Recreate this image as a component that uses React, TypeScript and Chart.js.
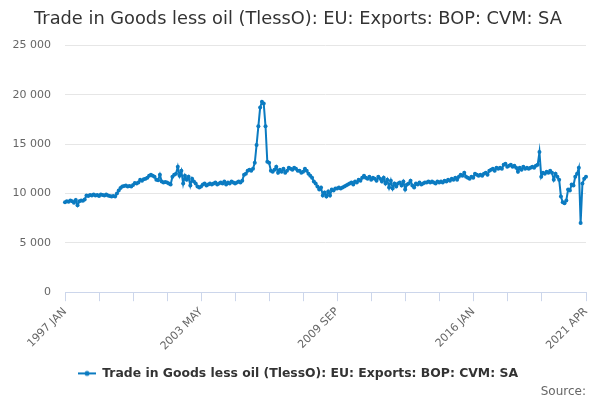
import React, { useEffect, useRef } from "react";
import { Chart, registerables } from "chart.js";

Chart.register(...registerables);

const TITLE = "Trade in Goods less oil (TlessO): EU: Exports: BOP: CVM: SA";
const SERIES_NAME = "Trade in Goods less oil (TlessO): EU: Exports: BOP: CVM: SA";
const SOURCE = "Source:";

const FIRST_YEAR = 1997;
const MONTHS = ["JAN", "FEB", "MAR", "APR", "MAY", "JUN", "JUL", "AUG", "SEP", "OCT", "NOV", "DEC"];
const LABELLED = ["1997 JAN", "2003 MAY", "2009 SEP", "2016 JAN", "2021 APR"];
const TICK_STEP = 19;
const Y_TICKS = [0, 5000, 10000, 15000, 20000, 25000];

// monthly values
const v1997 = [9100, 9200, 9150, 9300, 9200, 9050, 9350, 8800, 9200, 9300, 9250, 9400];
const v1998 = [9800, 9750, 9850, 9800, 9900, 9800, 9850, 9750, 9900, 9850, 9800, 9900];
const v1999 = [9800, 9750, 9700, 9750, 9700, 10000, 10300, 10550, 10700, 10750, 10800, 10700];
const v2000 = [10750, 10700, 10850, 11050, 11000, 11100, 11400, 11300, 11450, 11500, 11600, 11800];
const v2001 = [11900, 11800, 11700, 11400, 11350, 11900, 11200, 11100, 11150, 11100, 11000, 10900];
const v2002 = [11700, 11900, 12000, 12700, 11800, 12300, 11000, 11800, 11400, 11700, 10800, 11500];
const v2003 = [11200, 11000, 10700, 10600, 10700, 10900, 11000, 10800, 10900, 11000, 10900, 11000];
const v2004 = [11100, 10900, 11000, 11100, 11000, 11200, 10900, 11100, 11000, 11200, 11100, 11000];
const v2005 = [11100, 11200, 11100, 11300, 11900, 12000, 12300, 12400, 12300, 12500, 13100, 14900];
const v2006 = [16800, 18700, 19300, 19100, 16800, 13200, 13100, 12300, 12200, 12400, 12700, 12100];
const v2007 = [12400, 12200, 12500, 12100, 12300, 12600, 12500, 12400, 12600, 12500, 12300, 12300];
const v2008 = [12100, 12200, 12500, 12300, 12000, 11800, 11600, 11200, 11000, 10700, 10400, 10600];
const v2009 = [9800, 10100, 9700, 10200, 9800, 10400, 10300, 10500, 10500, 10600, 10500, 10600];
const v2010 = [10700, 10800, 10900, 11000, 11100, 10900, 11200, 11100, 11400, 11300, 11600, 11800];
const v2011 = [11600, 11500, 11700, 11400, 11600, 11500, 11300, 11700, 11500, 11200, 11600, 11000];
const v2012 = [11400, 10600, 11300, 10500, 11000, 10700, 11000, 11100, 10800, 11200, 10400, 10900];
const v2013 = [11000, 11300, 10800, 10600, 11000, 10900, 11100, 10900, 11000, 11100, 11100, 11200];
const v2014 = [11100, 11200, 11100, 11000, 11200, 11100, 11200, 11100, 11300, 11200, 11400, 11300];
const v2015 = [11500, 11400, 11600, 11400, 11700, 11900, 11800, 12100, 11700, 11600, 11500, 11700];
const v2016 = [11600, 12000, 11900, 11800, 11900, 11800, 12000, 12100, 11900, 12300, 12400, 12500];
const v2017 = [12300, 12600, 12500, 12600, 12500, 12900, 13000, 12700, 12800, 12900, 12700, 12800];
const v2018 = [12600, 12200, 12600, 12400, 12700, 12500, 12600, 12500, 12600, 12700, 12600, 12800];
const v2019 = [12900, 14200, 11700, 12100, 12000, 12200, 12100, 12300, 12100, 11400, 12000, 11700];
const v2020 = [11400, 9700, 9100, 9000, 9300, 10400, 10300, 10900, 10800, 11700, 12000, 12600];
const v2021 = [7000, 11000, 11500, 11700];

const VALUES = [
  ...v1997, ...v1998, ...v1999, ...v2000, ...v2001, ...v2002, ...v2003, ...v2004, ...v2005,
  ...v2006, ...v2007, ...v2008, ...v2009, ...v2010, ...v2011, ...v2012, ...v2013, ...v2014,
  ...v2015, ...v2016, ...v2017, ...v2018, ...v2019, ...v2020, ...v2021,
];
const LABELS = VALUES.map((_, i) => `${FIRST_YEAR + Math.floor(i / 12)} ${MONTHS[i % 12]}`);

const LINE_COLOR = "#0b7bc1";
const FONT = "'DejaVu Sans', sans-serif";

const fmt = (v: number) => String(v).replace(/\B(?=(\d{3})+(?!\d))/g, " ");

function legendIcon(color: string) {
  const c = document.createElement("canvas");
  c.width = 18;
  c.height = 8;
  const g = c.getContext("2d");
  if (g) {
    g.strokeStyle = color;
    g.lineWidth = 2;
    g.beginPath();
    g.moveTo(0, 4);
    g.lineTo(18, 4);
    g.stroke();
    g.fillStyle = color;
    g.beginPath();
    g.arc(9, 4, 2.5, 0, Math.PI * 2);
    g.fill();
  }
  return c;
}

const LineChart: React.FC = () => {
  const canvasRef = useRef<HTMLCanvasElement | null>(null);
  const chartRef = useRef<Chart | null>(null);

  useEffect(() => {
    if (!canvasRef.current) {
      return;
    }
    if (chartRef.current) {
      chartRef.current.destroy();
    }
    const last = LABELS.length - 1;
    const icon = legendIcon(LINE_COLOR);

    chartRef.current = new Chart(canvasRef.current, {
      type: "line",
      data: {
        labels: LABELS,
        datasets: [
          {
            label: SERIES_NAME,
            data: VALUES,
            borderColor: LINE_COLOR,
            backgroundColor: LINE_COLOR,
            borderWidth: 2,
            pointRadius: 2,
            pointBorderWidth: 0,
            pointBackgroundColor: LINE_COLOR,
            tension: 0,
          },
        ],
      },
      options: {
        responsive: false,
        animation: false,
        layout: { padding: { left: 10, right: 14, top: 0, bottom: 0 } },
        plugins: {
          title: {
            display: true,
            text: TITLE,
            color: "#333333",
            font: { family: FONT, size: 17.8, weight: "normal" },
            padding: { top: 9, bottom: 15 },
          },
          subtitle: {
            display: true,
            text: SOURCE,
            position: "bottom",
            align: "end",
            color: "#666666",
            font: { family: FONT, size: 12, weight: "normal" },
            padding: { top: -5, bottom: 1 },
          },
          legend: {
            position: "bottom",
            labels: {
              color: "#333333",
              font: { family: FONT, size: 12.4, weight: "bold" },
              usePointStyle: true,
              pointStyleWidth: 18,
              padding: 2,
              generateLabels: (chart) =>
                Chart.defaults.plugins.legend.labels
                  .generateLabels(chart)
                  .map((item) => ({ ...item, pointStyle: icon })),
            },
          },
          tooltip: { enabled: false },
        },
        scales: {
          x: {
            type: "category",
            afterBuildTicks: (axis) => {
              axis.ticks = axis.ticks.filter(
                (t) => (t.value % TICK_STEP === 0 && t.value <= last - TICK_STEP / 2) || t.value === last
              );
            },
            afterFit: (axis) => {
              axis.height = 73;
            },
            border: { display: true, color: "#ccd6eb", width: 1 },
            grid: {
              display: true,
              drawOnChartArea: false,
              drawTicks: true,
              tickLength: 9,
              color: "#ccd6eb",
            },
            ticks: {
              autoSkip: false,
              maxRotation: 45,
              minRotation: 45,
              padding: 4,
              color: "#666666",
              font: { family: FONT, size: 11 },
              callback: (value) => {
                const label = LABELS[Number(value)];
                return LABELLED.includes(label) ? label : "";
              },
            },
          },
          y: {
            min: Y_TICKS[0],
            max: Y_TICKS[Y_TICKS.length - 1],
            afterBuildTicks: (axis) => {
              axis.ticks = Y_TICKS.map((v) => ({ value: v }));
            },
            afterFit: (axis) => {
              axis.width = 55;
            },
            border: { display: false },
            grid: { color: "#e6e6e6", drawTicks: false },
            ticks: {
              padding: 14,
              color: "#666666",
              font: { family: FONT, size: 11 },
              callback: (value) => fmt(Number(value)),
            },
          },
        },
      },
    });

    return () => {
      if (chartRef.current) {
        chartRef.current.destroy();
        chartRef.current = null;
      }
    };
  }, []);

  return <canvas ref={canvasRef} width={600} height={400}></canvas>;
};

export default function App() {
  return (
    <div style={{ position: "absolute", left: 0, top: 0, width: 600, height: 400, background: "#ffffff" }}>
      <LineChart />
    </div>
  );
}
